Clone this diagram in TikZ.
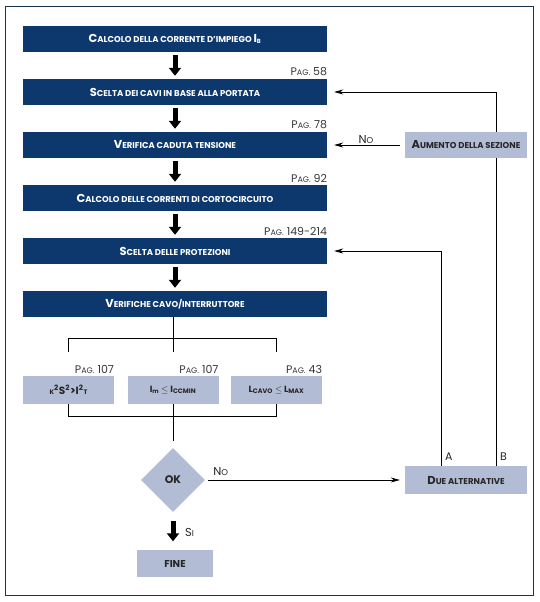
\documentclass[tikz,border=0pt]{standalone}
\usepackage{fontspec}
\setmainfont{Poppins}
\usetikzlibrary{shapes.geometric,arrows.meta,positioning}
\definecolor{navybox}{RGB}{12,56,110}
\definecolor{greybox}{RGB}{178,188,212}
\definecolor{framecol}{RGB}{25,55,75}
\definecolor{pagtext}{RGB}{55,55,55}
\newcommand{\capsl}[2]{{\fontsize{11.5}{12}\selectfont #1}\MakeUppercase{#2}}
\newcommand{\pagno}[1]{P{\fontsize{8}{8}\selectfont AG.} #1}
\newcommand{\smc}[1]{{\fontsize{6.5}{7}\selectfont #1}}

\begin{document}
\begin{tikzpicture}[
    x=1pt, y=1pt,
    node distance=53pt,
    dark/.style={rectangle, fill=navybox, text=white, minimum width=304pt, minimum height=26pt, inner sep=0pt, font=\fontsize{8.5}{9}\selectfont\bfseries},
    light/.style={rectangle, fill=greybox, text=black!85, minimum width=91pt, minimum height=28pt, inner sep=0pt, font=\fontsize{8.5}{9}\selectfont\bfseries},
    pag/.style={anchor=south east, inner sep=0pt, yshift=2.5pt, text=pagtext, font=\fontsize{11}{11}\selectfont},
    fat/.style={line width=5pt, -{Triangle[length=8pt,width=12pt]}, shorten <=3pt, shorten >=3pt},
    arrow/.style={line width=0.8pt, -{Stealth[length=9pt,width=5pt]}},
    lbl/.style={inner sep=1pt, text=black!85, font=\fontsize{8.5}{9}\selectfont}
]
    \useasboundingbox (0,0) rectangle (539,602);
    \fill[white] (0,0) rectangle (539,602);
    \draw[framecol, line width=1pt] (5,6) rectangle (533,595);

    % Main sequence
    \node [dark] (calc) at (175,563) {\capsl{C}{alcolo della corrente d'impiego} {\fontsize{11.5}{12}\selectfont I}\textsubscript{B}};
    \node [dark, below of=calc] (cavi) {\capsl{S}{celta dei cavi in base alla portata}};
    \node [dark, below of=cavi] (cdt) {\capsl{V}{erifica caduta tensione}};
    \node [dark, below of=cdt] (icc) {\capsl{C}{alcolo delle correnti di cortocircuito}};
    \node [dark, below of=icc] (prot) {\capsl{S}{celta delle protezioni}};
    \node [dark, below of=prot] (verif) {\capsl{V}{erifiche cavo/interruttore}};

    % Page references
    \node [pag] (p58) at (cavi.north east) {\pagno{58}};
    \node [pag] (p78) at (cdt.north east) {\pagno{78}};
    \node [pag] (p92) at (icc.north east) {\pagno{92}};
    \node [pag] (p149) at (prot.north east) {\pagno{149-214}};

    % Checks
    \node [light] (kbox) at (68.5,212) {\fontsize{10.5}{11}\selectfont\smc{K}\textsuperscript{2}S\textsuperscript{2}>I\textsuperscript{2}\smc{T}};
    \node [light] (ibox) at (173,212) {\fontsize{9}{9}\selectfont I\textsubscript{m} $\leq$ I\textsubscript{\smc{CCMIN}}};
    \node [light] (lbox) at (276.5,212) {\fontsize{9}{9}\selectfont L\textsubscript{\smc{CAVO}} $\leq$ L\textsubscript{\smc{MAX}}};
    \node [pag] (p107a) at (kbox.north east) {\pagno{107}};
    \node [pag] (p107b) at (ibox.north east) {\pagno{107}};
    \node [pag] (p43) at (lbox.north east) {\pagno{43}};

    % Decision and end
    \node [diamond, fill=greybox, minimum width=64pt, minimum height=64pt, inner sep=0pt, aspect=1, text=black!85, font=\fontsize{11}{11}\selectfont\bfseries] (ok) at (173,122) {OK};
    \node [light, minimum width=76pt, minimum height=27pt, font=\fontsize{10}{10}\selectfont\bfseries] (fine) at (175,38) {FINE};

    % Right side
    \node [light, minimum width=122pt, minimum height=26pt] (aum) at (cdt -| 466,0) {\capsl{A}{umento della sezione}};
    \node [light, minimum width=122pt] (due) at (466,122) {\capsl{D}{ue alternative}};

    % Fat arrows
    \draw [fat] (calc) -- (cavi);
    \draw [fat] (cavi) -- (cdt);
    \draw [fat] (cdt) -- (icc);
    \draw [fat] (icc) -- (prot);
    \draw [fat] (prot) -- (verif);
    \draw [fat, shorten <=9pt, shorten >=9pt] (ok.south) -- (ok.south |- fine.north);
    \node [lbl, anchor=west] (si) at ([xshift=11pt,yshift=-20pt]ok.south) {\capsl{S}{i}};

    % Branches
    \draw [line width=0.8pt] (verif.south -| ibox) -- ++(0,-21) coordinate (split);
    \draw [line width=0.8pt] ([yshift=24pt]kbox.north) |- (split) -| ([yshift=24pt]lbox.north);
    \draw [line width=0.8pt] (split) -- ([yshift=24pt]ibox.north);
    \draw [line width=0.8pt] (kbox.south) -- ++(0,-12) -| (lbox.south);
    \draw [line width=0.8pt] (ibox.south) -- ([yshift=7pt]ok.north);

    % Loops back
    \draw [arrow, shorten <=3pt, shorten >=5pt] (ok.east) -- (due.west);
    \node [lbl, anchor=south west] (no2) at ([xshift=7pt,yshift=3pt]ok.east) {\capsl{N}{o}};
    \draw [arrow, shorten >=7pt] ([xshift=-25pt]due.north) |- (prot.east);
    \draw [line width=0.8pt] ([xshift=30pt]due.north) -- ([xshift=30pt]aum.south);
    \draw [arrow, shorten >=7pt] ([xshift=30pt]aum.north) |- (cavi.east);
    \draw [arrow, shorten <=5pt, shorten >=7pt] (aum.west) -- (cdt.east) node [lbl, midway, above] (no1) {\capsl{N}{o}};
    \node [lbl, anchor=south west] (la) at ([xshift=-22pt,yshift=4pt]due.north) {\fontsize{11}{11}\selectfont A};
    \node [lbl, anchor=south west] (lb) at ([xshift=33pt,yshift=4pt]due.north) {\fontsize{11}{11}\selectfont B};
\end{tikzpicture}
\end{document}
